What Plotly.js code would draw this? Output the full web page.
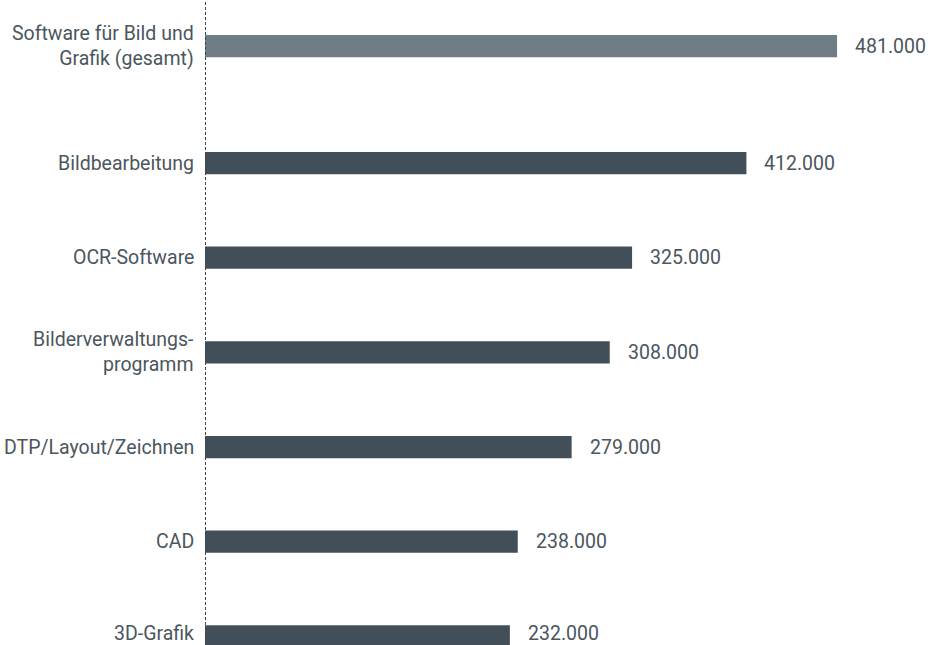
<!DOCTYPE html>
<html>
<head>
<meta charset="utf-8">
<script src="https://cdn.plot.ly/plotly-3.0.1.min.js"></script>
<style>html,body{margin:0;padding:0;background:#fff;}#chart{width:933px;height:645px;}</style>
</head>
<body>
<div id="chart"></div>
<script>
// Data
const categories = ["Software für Bild und<br>Grafik (gesamt)", "Bildbearbeitung", "OCR-Software", "Bilderverwaltungs-<br>programm", "DTP/Layout/Zeichnen", "CAD", "3D-Grafik"];
const values = [481000, 412000, 325000, 308000, 279000, 238000, 232000];
const barColors = ["#6f7e86", "#434f58", "#434f58", "#434f58", "#434f58", "#434f58", "#434f58"];

// the total row sits a little further away from the rest
const positions = categories.map((c, i) => i === 0 ? -0.236 : i);
const fmt = v => String(v).replace(/\B(?=(\d{3})+(?!\d))/g, ".");
const FONT = "Roboto, 'Liberation Sans', sans-serif";
const TXT = "#4b565d";
const W = 933, ML = 205;
const last = categories.length - 1;

const trace = {
  type: "bar",
  orientation: "h",
  x: values,
  y: positions,
  width: 0.235,
  marker: {color: barColors},
  hoverinfo: "skip"
};

const valueLabels = values.map((v, i) => ({
  x: v, y: positions[i], xref: "x", yref: "y",
  text: fmt(v), showarrow: false, xanchor: "left", xshift: 17,
  yshift: i === last ? 3 : 0, borderpad: 0,
  font: {family: FONT, size: 19.5, color: TXT}
}));

const catLabels = categories.map((c, i) => ({
  x: 0, y: positions[i], xref: "x", yref: "y",
  text: c, showarrow: false, xanchor: "right", align: "right", xshift: -10,
  yshift: i === last ? 3 : 0, borderpad: 0,
  font: {family: FONT, size: 19.5, color: TXT}
}));

const layout = {
  width: W, height: 645,
  margin: {l: ML, r: 0, t: 0, b: 0},
  paper_bgcolor: "#fff", plot_bgcolor: "#fff",
  showlegend: false,
  xaxis: {range: [0, 554000], visible: false, fixedrange: true},
  yaxis: {
    range: [6.091, -0.722],
    visible: false,
    fixedrange: true
  },
  shapes: [{
    type: "line", xref: "paper", yref: "paper",
    x0: 0.5 / (W - ML), x1: 0.5 / (W - ML), y0: 0, y1: 1,
    line: {color: "#3c454c", width: 1, dash: "3px,2px"}, layer: "above"
  }],
  annotations: valueLabels.concat(catLabels)
};

Plotly.newPlot("chart", [trace], layout, {displayModeBar: false, staticPlot: true});
</script>
</body>
</html>
